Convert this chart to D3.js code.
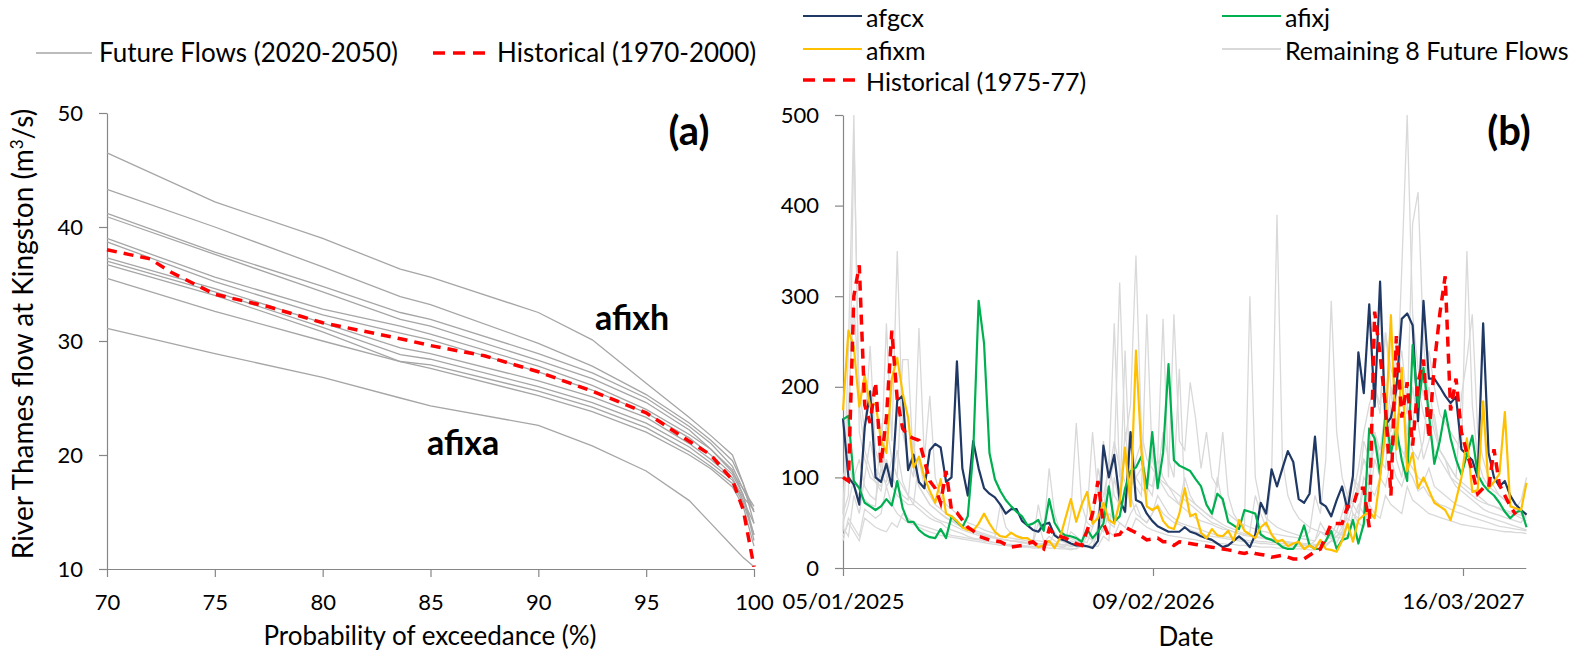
<!DOCTYPE html>
<html><head><meta charset="utf-8">
<script src="https://cdn.jsdelivr.net/npm/d3@7"></script>
<style>
body{margin:0;background:#fff}
svg{display:block;font-family:Lato,"Open Sans",sans-serif}
</style>
</head><body>
<svg id="chart" width="1577" height="654"></svg>
<script>
// ---------- Panel (a): flow duration curves ----------
const probTicks = [70, 75, 80, 85, 90, 95, 100];
const flowTicksA = [10, 20, 30, 40, 50];
const probX = [70, 75, 80, 83.6, 85, 90, 92.5, 95, 97, 98, 99, 99.5, 100];
const ffAfixh = [46.5, 42.2, 39.0, 36.3, 35.6, 32.5, 30.1, 26.3, 23.3, 21.7, 20.0, 17.5, 14.0];
const ffCurve2 = [43.3, 40.0, 36.5, 33.9, 33.2, 29.8, 27.8, 25.3, 22.8, 21.3, 19.5, 17.5, 15.0];
const ffCurve3 = [41.2, 37.8, 34.8, 32.5, 31.9, 28.9, 27.2, 25.0, 22.5, 21.0, 19.0, 17.0, 15.5];
const ffCurve4 = [40.9, 37.6, 34.3, 31.9, 31.3, 28.3, 26.7, 24.6, 22.2, 20.5, 18.7, 16.5, 13.0];
const ffCurve5 = [39.0, 35.6, 32.8, 31.3, 30.6, 27.8, 26.1, 24.0, 21.8, 20.5, 18.5, 17.0, 15.0];
const ffCurve6 = [38.7, 35.2, 32.3, 30.7, 30.1, 27.3, 25.7, 23.7, 21.5, 20.0, 18.3, 16.5, 12.5];
const ffCurve7 = [37.3, 34.6, 31.6, 29.4, 28.9, 26.5, 25.1, 23.3, 21.0, 19.6, 18.0, 16.0, 14.0];
const ffCurve8 = [37.0, 34.3, 31.2, 28.8, 28.4, 26.0, 24.6, 22.8, 20.7, 19.3, 17.8, 16.3, 15.2];
const ffCurve9 = [36.7, 34.0, 30.8, 28.2, 27.9, 25.6, 24.2, 22.4, 20.3, 19.0, 17.5, 15.8, 13.0];
const ffCurve10 = [35.5, 32.6, 30.0, 28.2, 27.6, 25.2, 23.8, 22.0, 20.0, 18.8, 17.2, 15.5, 12.0];
const ffAfixa = [31.1, 28.9, 26.8, 25.0, 24.3, 22.6, 20.8, 18.6, 16.0, 14.0, 12.0, 11.0, 10.2];
const histProbX = [70, 71, 72, 73, 75, 77.5, 80, 83.6, 85, 87.5, 90, 92.5, 95, 97, 98, 99, 99.5, 100];
const histFlow = [38.0, 37.6, 37.2, 36.0, 34.1, 33.0, 31.6, 30.2, 29.6, 28.7, 27.3, 25.6, 23.7, 21.2, 20.0, 17.8, 15.2, 10.2];

// ---------- Panel (b): weekly time series ----------
const startDate = "2025-01-05";
const stepDays = 7;
const dateTicks = ["2025-01-05", "2026-02-09", "2027-03-16"];
const flowTicksB = [0, 100, 200, 300, 400, 500];
const afgcx = [165,100,92,70,155,195,100,95,115,90,
 185,190,108,125,95,88,130,137,133,95,
 100,228,110,80,140,110,88,82,78,70,
 60,65,65,52,47,42,40,48,50,36,
 32,30,27,25,25,24,22,30,135,100,
 125,75,62,150,75,72,60,52,46,43,
 40,40,40,45,40,38,35,33,31,27,
 23,25,30,35,30,23,37,72,60,109,
 90,110,129,117,76,72,82,145,72,68,
 57,75,90,64,102,238,193,291,178,316,
 158,166,197,275,281,268,162,295,209,209,
 200,190,182,189,131,125,119,100,270,127,
 100,90,96,80,70,64,59];
const afixj = [164,168,96,88,72,68,64,68,76,69,
 96,66,51,51,42,37,34,33,43,33,
 57,51,45,57,127,295,248,127,98,85,
 75,68,62,57,47,49,53,41,76,50,
 40,36,35,33,29,43,33,40,49,90,
 51,57,88,107,111,123,88,150,88,127,
 225,119,113,110,107,98,90,70,60,82,
 76,51,47,43,64,62,60,37,33,31,
 28,23,21,21,30,47,25,21,21,30,
 41,21,31,33,53,27,49,154,143,103,
 170,127,154,119,96,246,178,221,170,115,
 140,174,143,120,103,125,146,103,92,85,
 80,72,62,55,61,64,45];
const afixm = [174,262,244,178,213,178,182,141,127,209,
 232,193,166,111,123,100,85,72,98,60,
 57,52,45,42,41,49,60,49,40,35,
 34,39,35,33,33,28,23,25,30,22,
 33,55,76,51,70,84,49,55,72,53,
 49,72,133,68,240,129,68,64,68,52,
 45,43,60,88,57,60,39,33,43,36,
 35,41,30,53,41,37,33,45,50,37,
 29,31,24,27,29,21,25,21,31,21,
 20,18,30,49,29,53,58,62,55,100,
 154,279,131,221,107,127,88,100,86,72,
 68,64,53,75,100,143,84,86,184,88,
 95,104,172,68,66,64,94];
const hist7577 = [100,96,300,334,180,160,205,115,166,262,
 186,154,146,143,141,119,96,88,72,107,
 64,61,53,45,41,35,33,31,30,29,
 26,23,24,25,27,29,24,21,43,37,
 35,33,30,27,25,41,60,96,49,35,
 36,37,45,42,39,35,31,32,33,29,
 29,25,29,28,27,26,25,24,23,22,
 21,20,19,17,16,18,16,15,14,12,
 13,14,12,10,10,10,14,18,21,35,
 49,49,49,68,68,88,88,45,283,236,
 178,80,256,166,205,135,205,230,143,225,
 280,322,174,209,150,127,107,82,88,88,
 131,92,80,68,59];
const rem1 = [60,240,500,150,120,100,95,90,160,120,
 100,90,80,75,70,65,60,55,52,50,
 48,45,42,40,38,36,35,34,33,32,
 31,30,30,29,28,28,27,27,26,40,
 30,28,60,160,70,50,45,110,80,90,
 120,315,140,180,345,150,120,110,100,95,
 90,80,70,65,60,55,52,50,48,45,
 43,42,40,38,36,40,80,60,45,100,
 390,120,80,65,55,50,45,42,40,38,
 36,35,40,60,80,110,150,180,200,170,
 260,200,180,330,500,280,220,190,240,200,
 170,160,150,140,130,350,180,120,100,90,
 85,80,75,70,65,60,58];
const rem2 = [40,180,290,200,150,245,130,110,270,140,
 350,150,120,100,265,120,190,100,80,70,
 65,60,55,50,48,45,42,40,38,36,
 34,33,32,31,30,29,70,40,110,60,
 40,35,33,30,28,60,150,80,140,100,
 140,110,95,85,120,140,90,80,120,275,
 100,280,140,130,205,165,110,150,100,90,
 150,80,60,50,45,300,100,70,55,50,
 45,42,40,38,36,35,40,80,60,120,
 295,150,100,80,70,90,120,100,140,120,
 180,150,250,200,170,380,415,250,180,150,
 130,120,110,100,190,230,280,150,120,100,
 90,80,75,70,65,75,100];
const rem3 = [50,70,100,120,90,80,75,110,90,100,
 130,95,80,70,65,60,55,52,50,45,
 42,40,38,35,33,32,30,29,28,27,
 26,25,25,24,24,23,23,28,35,30,
 26,25,40,35,30,28,45,60,80,110,
 270,100,120,90,100,110,95,90,120,100,
 90,85,80,75,70,65,60,55,50,48,
 45,42,40,38,36,35,34,33,32,31,
 30,29,28,27,26,26,25,30,40,35,
 32,40,60,80,100,90,120,110,150,130,
 170,140,160,190,150,130,120,140,200,160,
 130,120,110,100,95,90,85,80,75,70,
 68,65,62,60,58,55,52];
const rem4 = [30,55,45,35,65,60,55,60,90,70,
 60,55,50,48,45,42,40,38,36,35,
 34,33,32,31,30,29,28,27,26,25,
 25,24,24,23,23,22,22,22,30,25,
 23,22,22,21,25,35,30,45,40,60,
 55,50,45,60,70,55,50,60,70,60,
 55,50,48,45,42,40,38,36,35,34,
 33,32,31,30,29,28,28,27,27,26,
 26,25,25,24,24,23,23,25,28,26,
 30,35,45,55,50,70,60,90,80,100,
 90,120,100,90,110,100,85,90,80,75,
 70,68,65,62,60,58,56,54,52,50,
 48,46,45,44,43,42,41];
const rem5 = [45,35,80,60,100,140,110,100,95,120,
 100,230,230,110,90,80,70,65,60,55,
 52,50,48,45,42,40,38,36,34,32,
 31,30,29,28,27,26,50,30,28,27,
 26,25,24,24,23,23,30,40,60,120,
 80,70,150,100,90,80,280,120,100,90,
 80,75,70,100,80,70,65,60,55,100,
 70,60,55,50,48,45,43,41,40,38,
 37,36,35,34,33,32,31,30,50,40,
 35,34,33,80,60,55,90,70,120,100,
 140,200,120,100,150,200,160,120,140,170,
 130,120,100,90,85,80,75,70,65,62,
 60,58,56,54,52,50,60];
const rem6 = [100,120,90,80,75,70,68,160,100,90,
 80,75,70,70,120,90,80,70,65,60,
 55,50,46,43,40,38,36,34,33,32,
 31,30,29,28,27,27,26,26,25,25,
 24,24,30,28,26,25,24,24,35,30,
 100,70,240,80,60,55,50,60,80,70,
 60,55,50,48,46,44,42,40,38,36,
 35,34,33,32,31,30,30,29,29,28,
 28,27,27,26,26,25,25,24,26,30,
 45,40,36,50,70,60,100,90,150,120,
 110,180,140,130,120,110,100,95,110,90,
 85,80,75,70,68,65,62,60,58,56,
 54,52,50,48,46,44,42];
const rem7 = [35,50,40,30,55,50,45,42,40,50,
 45,60,55,50,48,46,44,42,40,38,
 36,35,34,33,32,31,30,29,28,27,
 26,26,25,25,24,24,23,23,22,22,
 21,21,20,22,24,23,22,30,45,40,
 35,50,45,40,55,50,45,42,40,38,
 36,35,34,33,32,31,30,29,28,27,
 27,26,26,25,25,24,24,23,23,23,
 22,22,22,21,21,21,20,20,22,24,
 30,28,40,35,60,50,45,70,60,55,
 80,70,65,60,90,75,70,65,60,58,
 56,54,52,50,48,47,46,45,44,43,
 42,41,40,40,39,39,38];
const rem8 = [60,80,480,180,130,110,95,85,120,100,
 90,80,75,140,90,80,70,65,60,56,
 52,48,45,42,40,38,36,35,34,70,
 45,38,36,34,32,31,30,29,28,27,
 26,26,25,25,24,24,23,40,60,50,
 45,80,60,150,100,90,80,130,100,150,
 120,100,220,80,75,70,65,60,56,52,
 48,45,43,40,38,36,35,34,33,32,
 31,30,29,28,28,27,27,26,26,30,
 35,50,45,60,100,80,140,120,200,180,
 260,220,200,240,180,160,200,170,150,130,
 120,110,100,95,90,85,80,75,72,70,
 68,66,64,62,60,58,56];

// ---------- styles ----------
const axisColor = "#868686";
const ffGreyA = "#a6a6a6";
const greyB = "#d9d9d9";
const navy = "#1f3864";
const green = "#00b050";
const gold = "#ffc000";
const red = "#ff0000";

const svg = d3.select("#chart");
svg.append("rect").attr("width", 1577).attr("height", 654).attr("fill", "#fff");

function styleAxis(g) {
  g.select(".domain").attr("stroke", axisColor).attr("stroke-width", 1.2);
  g.selectAll(".tick line").attr("stroke", axisColor).attr("stroke-width", 1.2);
  g.selectAll(".tick text").attr("fill", "#000").style("font-size", "22px").style("font-family", "Lato");
}

// ===== Panel (a) =====
const xA = d3.scaleLinear().domain([70, 100]).range([107, 754]);
const yA = d3.scaleLinear().domain([10, 50]).range([569, 113]);

const gA = svg.append("g");
gA.append("g").attr("transform", "translate(0,569)")
  .call(d3.axisBottom(xA).tickValues(probTicks).tickSize(8).tickSizeOuter(0).tickPadding(17))
  .call(styleAxis);
gA.append("g").attr("transform", "translate(107,0)")
  .call(d3.axisLeft(yA).tickValues(flowTicksA).tickSize(8).tickSizeOuter(0).tickPadding(16))
  .call(styleAxis);

const lineA = d3.line().x(d => xA(d[0])).y(d => yA(d[1]));
const ffCurves = [ffAfixh, ffCurve2, ffCurve3, ffCurve4, ffCurve5, ffCurve6, ffCurve7, ffCurve8, ffCurve9, ffCurve10, ffAfixa];
ffCurves.forEach(c => {
  gA.append("path").datum(probX.map((p, i) => [p, c[i]]))
    .attr("d", lineA).attr("fill", "none").attr("stroke", ffGreyA).attr("stroke-width", 1.3);
});
gA.append("path").datum(histProbX.map((p, i) => [p, histFlow[i]]))
  .attr("d", lineA).attr("fill", "none").attr("stroke", red)
  .attr("stroke-width", 3.5).attr("stroke-dasharray", "10,7");

gA.append("text").attr("x", 689).attr("y", 145).attr("text-anchor", "middle")
  .style("font-size", "40px").style("font-weight", "bold").text("(a)");
gA.append("text").attr("x", 595).attr("y", 330)
  .style("font-size", "34px").style("font-weight", "bold").text("afixh");
gA.append("text").attr("x", 427).attr("y", 455)
  .style("font-size", "34px").style("font-weight", "bold").text("afixa");

gA.append("text").attr("x", 430).attr("y", 645).attr("text-anchor", "middle")
  .style("font-size", "26px").text("Probability of exceedance (%)");
const yt = gA.append("text").attr("transform", "translate(33,334) rotate(-90)")
  .attr("text-anchor", "middle").style("font-size", "28px");
yt.append("tspan").text("River Thames flow at Kingston (m");
yt.append("tspan").attr("baseline-shift", "super").style("font-size", "17px").text("3");
yt.append("tspan").text("/s)");

// legend (a)
const legA = svg.append("g").style("font-size", "26px");
legA.append("line").attr("x1", 36).attr("x2", 92).attr("y1", 53).attr("y2", 53)
  .attr("stroke", ffGreyA).attr("stroke-width", 1.3);
legA.append("text").attr("x", 99).attr("y", 53).attr("dy", "0.35em").text("Future Flows (2020-2050)");
legA.append("line").attr("x1", 433).attr("x2", 493).attr("y1", 53).attr("y2", 53)
  .attr("stroke", red).attr("stroke-width", 3.5).attr("stroke-dasharray", "12,8");
legA.append("text").attr("x", 497).attr("y", 53).attr("dy", "0.35em").text("Historical (1970-2000)");

// ===== Panel (b) =====
const parse = d3.utcParse("%Y-%m-%d");
const d0 = parse(startDate);
const dayMs = 86400000;
const xB = d3.scaleUtc().domain([d0, new Date(d0.getTime() + 881 * dayMs)]).range([843, 843 + 881 * 0.775]);
const yB = d3.scaleLinear().domain([0, 500]).range([568, 115]);

const gB = svg.append("g");
gB.append("g").attr("transform", "translate(0,568)")
  .call(d3.axisBottom(xB).tickValues(dateTicks.map(parse)).tickFormat(d3.utcFormat("%d/%m/%Y"))
    .tickSize(8).tickSizeOuter(0).tickPadding(17))
  .call(styleAxis);
gB.append("g").attr("transform", "translate(843,0)")
  .call(d3.axisLeft(yB).tickValues(flowTicksB).tickSize(8).tickSizeOuter(0).tickPadding(16))
  .call(styleAxis);

const lineB = d3.line().x((d, i) => xB(new Date(d0.getTime() + i * stepDays * dayMs))).y(d => yB(d));
[rem1, rem2, rem3, rem4, rem5, rem6, rem7, rem8].forEach(s => {
  gB.append("path").datum(s).attr("d", lineB).attr("fill", "none")
    .attr("stroke", greyB).attr("stroke-width", 1.3);
});
[[afgcx, navy], [afixj, green], [afixm, gold]].forEach(([s, c]) => {
  gB.append("path").datum(s).attr("d", lineB).attr("fill", "none")
    .attr("stroke", c).attr("stroke-width", 2.2).attr("stroke-linejoin", "round");
});
gB.append("path").datum(hist7577).attr("d", lineB).attr("fill", "none")
  .attr("stroke", red).attr("stroke-width", 3.5).attr("stroke-dasharray", "10,7");

gB.append("text").attr("x", 1509).attr("y", 145).attr("text-anchor", "middle")
  .style("font-size", "40px").style("font-weight", "bold").text("(b)");
gB.append("text").attr("x", 1186).attr("y", 646).attr("text-anchor", "middle")
  .style("font-size", "26px").text("Date");

// legend (b)
const legB = svg.append("g").style("font-size", "25px");
const legItems = [
  {x: 803, y: 16, c: navy, w: 2.2, dash: null, t: "afgcx"},
  {x: 1222, y: 16, c: green, w: 2.2, dash: null, t: "afixj"},
  {x: 803, y: 49, c: gold, w: 2.2, dash: null, t: "afixm"},
  {x: 1222, y: 49, c: greyB, w: 2.2, dash: null, t: "Remaining 8 Future Flows"},
  {x: 803, y: 80, c: red, w: 3.5, dash: "12,8", t: "Historical (1975-77)"}
];
legItems.forEach(it => {
  const ln = legB.append("line").attr("x1", it.x).attr("x2", it.x + 59)
    .attr("y1", it.y).attr("y2", it.y).attr("stroke", it.c).attr("stroke-width", it.w);
  if (it.dash) ln.attr("stroke-dasharray", it.dash);
  legB.append("text").attr("x", it.x + 63).attr("y", it.y + 2).attr("dy", "0.35em").text(it.t);
});
</script>
</body></html>
